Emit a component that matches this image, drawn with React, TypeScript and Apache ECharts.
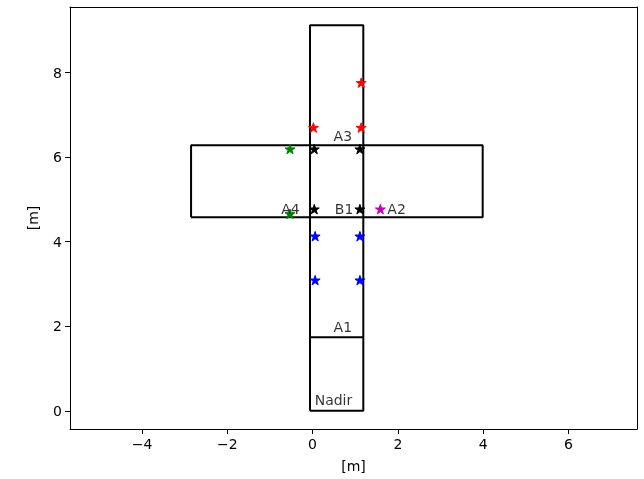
import React, { useEffect, useRef } from "react";
import * as echarts from "echarts";

// Outline shapes (corner coordinates in metres)
const verticalRect: [number, number][] = [[-0.06, 0], [1.19, 0], [1.19, 9.12], [-0.06, 9.12], [-0.06, 0]];
const nadirTop: [number, number][] = [[-0.06, 1.74], [1.19, 1.74]];
const horizontalRect: [number, number][] = [[-2.85, 4.58], [3.99, 4.58], [3.99, 6.28], [-2.85, 6.28], [-2.85, 4.58]];

// Star markers
const redStars: [number, number][] = [[0.02, 6.7], [1.14, 6.7], [1.14, 7.76]];
const blackStars: [number, number][] = [[0.04, 6.19], [1.11, 6.19], [0.04, 4.77], [1.11, 4.77]];
const greenStars: [number, number][] = [[-0.53, 6.19], [-0.53, 4.66]];
const magentaStars: [number, number][] = [[1.59, 4.77]];
const blueStars: [number, number][] = [[0.06, 4.13], [1.11, 4.13], [0.06, 3.09], [1.11, 3.09]];

// Text labels
const labelNames = ["A3", "A4", "B1", "A2", "A1", "Nadir"];
const labelX = [0.71, -0.52, 0.74, 1.97, 0.71, 0.49];
const labelY = [6.51, 4.77, 4.77, 4.77, 1.98, 0.25];

const xTicks = [-4, -2, 0, 2, 4, 6];
const yTicks = [0, 2, 4, 6, 8];

const STAR =
  "path://M0,-1L0.2245,-0.309L0.951,-0.309L0.363,0.118L0.588,0.809L0,0.382L-0.588,0.809L-0.363,0.118L-0.951,-0.309L-0.2245,-0.309Z";

const FONT = "DejaVu Sans";
const X_MIN = -5.69, X_MAX = 7.61, Y_MIN = -0.43, Y_MAX = 9.55;

export default function App() {
  const ref = useRef<HTMLDivElement>(null);
  useEffect(() => {
    if (!ref.current) return;
    document.body.style.margin = "0";
    document.body.style.overflow = "hidden";
    const chart = echarts.init(ref.current, null, { renderer: "svg" });
    const lineSeries = (data: [number, number][]) => ({
      type: "line",
      data,
      symbol: "none",
      lineStyle: { color: "#000", width: 2 },
      silent: true,
      z: 2,
    });
    const starSeries = (data: [number, number][], color: string) => ({
      type: "scatter",
      data,
      symbol: STAR,
      symbolSize: 10,
      symbolKeepAspect: true,
      itemStyle: { color, opacity: 1, borderColor: color, borderWidth: 1 },
      z: 3,
    });
    const fmt = (v: number) => String(v).replace("-", "\u2212");
    const frameAxis = (pos: string, min: number, max: number) => ({
      type: "value",
      position: pos,
      min,
      max,
      axisLine: { show: true, onZero: false, lineStyle: { color: "#000", width: 1 } },
      axisTick: { show: false },
      axisLabel: { show: false },
      splitLine: { show: false },
    });
    chart.setOption({
      animation: false,
      grid: { left: 70, right: 7, top: 7, bottom: 50 },
      xAxis: [
        {
          type: "value",
          position: "bottom",
          min: X_MIN,
          max: X_MAX,
          name: "[m]",
          nameLocation: "middle",
          nameGap: 30,
          nameTextStyle: { color: "#000", fontFamily: FONT, fontSize: 14 },
          axisLine: { show: true, onZero: false, lineStyle: { color: "#000", width: 1 } },
          splitLine: { show: false },
          axisTick: { show: true, customValues: xTicks, length: 5, lineStyle: { color: "#000" } },
          axisLabel: { customValues: xTicks, formatter: fmt, color: "#000", fontFamily: FONT, fontSize: 14, margin: 8 },
        },
        frameAxis("top", X_MIN, X_MAX),
      ],
      yAxis: [
        {
          type: "value",
          position: "left",
          min: Y_MIN,
          max: Y_MAX,
          name: "[m]",
          nameLocation: "middle",
          nameGap: 30,
          nameTextStyle: { color: "#000", fontFamily: FONT, fontSize: 14 },
          axisLine: { show: true, onZero: false, lineStyle: { color: "#000", width: 1 } },
          splitLine: { show: false },
          axisTick: { show: true, customValues: yTicks, length: 5, lineStyle: { color: "#000" } },
          axisLabel: { customValues: yTicks, formatter: fmt, color: "#000", fontFamily: FONT, fontSize: 14, margin: 8 },
        },
        frameAxis("right", Y_MIN, Y_MAX),
      ],
      series: [
        lineSeries(verticalRect),
        lineSeries(nadirTop),
        lineSeries(horizontalRect),
        starSeries(redStars, "#ff0000"),
        starSeries(blackStars, "#000000"),
        starSeries(greenStars, "#008000"),
        starSeries(magentaStars, "#bf00bf"),
        starSeries(blueStars, "#0000ff"),
        {
          type: "scatter",
          data: labelNames.map((n, i) => ({ name: n, value: [labelX[i], labelY[i]] })),
          symbolSize: 0,
          z: 4,
          label: {
            show: true,
            position: "inside",
            formatter: (p: any) => p.name,
            color: "#000",
            fontFamily: FONT,
            fontSize: 14,
          },
        },
      ],
    });
    return () => chart.dispose();
  }, []);
  return <div ref={ref} style={{ position: "fixed", left: 0, top: 0, width: 644, height: 479 }} />;
}
